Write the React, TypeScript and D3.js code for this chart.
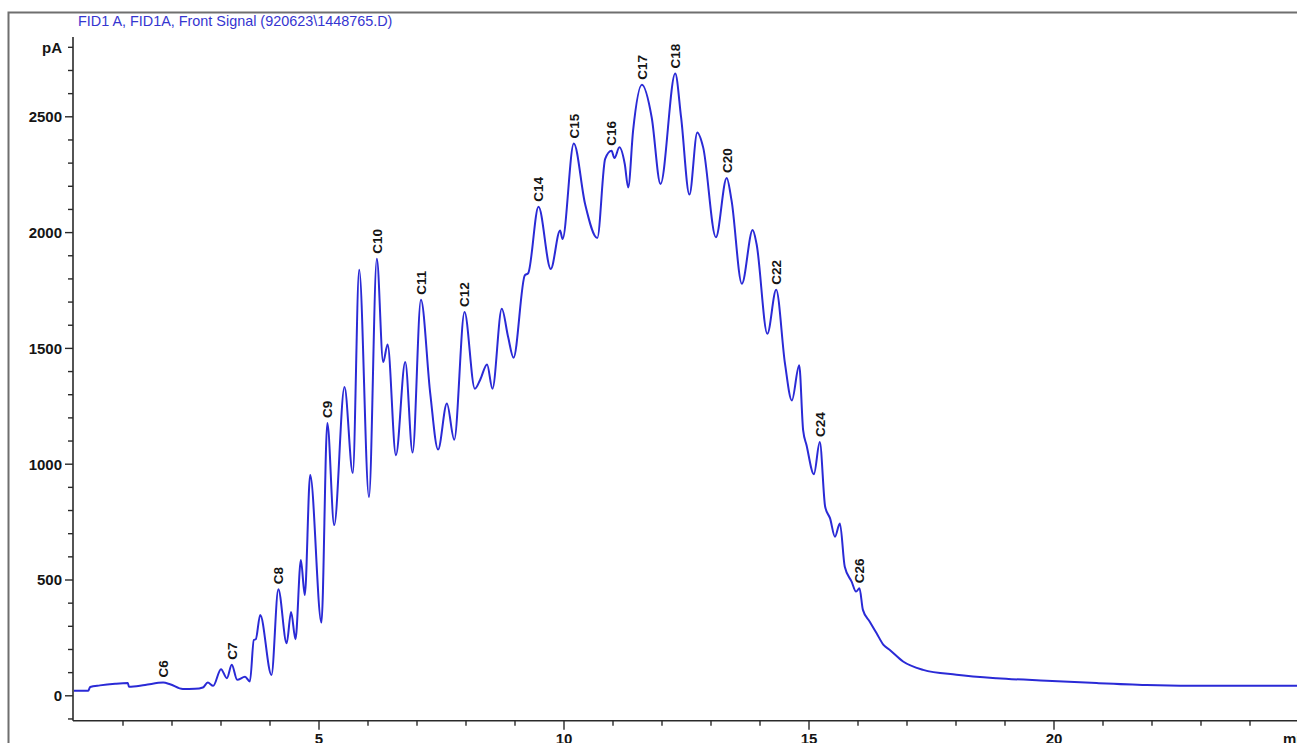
import * as d3 from "d3";

// retention time (min) and detector signal (pA)
const TIMES = [
  0.0, 0.29, 0.33, 0.53, 0.84, 1.1, 1.12, 1.45, 1.82, 1.96, 2.22, 2.47, 2.63, 2.73, 2.84,
  3.0, 3.12, 3.22, 3.33, 3.49, 3.59, 3.67, 3.71, 3.8, 4.03, 4.17, 4.34, 4.43, 4.52, 4.63,
  4.71, 4.82, 5.05, 5.17, 5.31, 5.52, 5.69, 5.82, 6.02, 6.18, 6.31, 6.4, 6.57, 6.76, 6.91,
  7.08, 7.27, 7.43, 7.61, 7.76, 7.97, 8.18, 8.29, 8.43, 8.54, 8.73, 8.86, 8.97, 9.2, 9.27,
  9.48, 9.73, 9.92, 9.97, 10.2, 10.43, 10.68, 10.84, 10.97, 11.03, 11.13, 11.24, 11.31,
  11.41, 11.59, 11.79, 11.97, 12.27, 12.39, 12.56, 12.72, 12.84, 13.1, 13.32, 13.42, 13.63,
  13.85, 13.93, 14.15, 14.33, 14.51, 14.65, 14.8, 14.88, 14.95, 15.1, 15.22, 15.33, 15.43,
  15.53, 15.63, 15.73, 15.87, 15.96, 16.03, 16.1, 16.24, 16.38, 16.52, 16.65, 16.92, 17.33,
  18.01, 18.83, 19.85, 20.87, 21.89, 23.24, 25.0,
];
const SIGNAL = [
  22, 22, 38, 45, 52, 55, 39, 47, 57, 50, 29, 30, 36, 57, 43,
  115, 76, 134, 69, 82, 62, 241, 244, 349, 90, 460, 227, 362, 244, 586,
  435, 953, 316, 1178, 737, 1333, 962, 1840, 858, 1887, 1441, 1517, 1039, 1441, 1050,
  1710, 1306, 1063, 1262, 1106, 1657, 1326, 1365, 1431, 1326, 1671, 1549, 1460, 1815, 1825,
  2112, 1843, 2009, 1972, 2385, 2124, 1977, 2318, 2353, 2322, 2368, 2296, 2195,
  2440, 2638, 2497, 2210, 2687, 2497, 2164, 2432, 2368, 1980, 2236, 2138, 1779,
  2011, 1951, 1563, 1753, 1434, 1275, 1427, 1147, 1082, 957, 1096, 816, 766,
  687, 744, 557, 493, 450, 464, 371, 320, 270, 220, 198, 148, 112,
  91, 76, 65, 55, 47, 43, 43,
];

const PEAK_NAMES = ["C6", "C7", "C8", "C9", "C10", "C11", "C12", "C14", "C15", "C16", "C17", "C18", "C20", "C22", "C24", "C26"];
const PEAK_TIMES = [1.82, 3.22, 4.17, 5.17, 6.18, 7.08, 7.97, 9.48, 10.2, 10.97, 11.59, 12.27, 13.32, 14.33, 15.22, 16.03];

const Y_MAJOR = [0, 500, 1000, 1500, 2000, 2500];
const X_MAJOR = [5, 10, 15, 20];

const TITLE = "FID1 A, FID1A, Front Signal (920623\\1448765.D)";

export default function App() {
  const W = 1297;
  const H = 743;
  const font = "'Liberation Sans', Arial, sans-serif";
  const blue = "#2a2ad6";
  const axisColor = "#2a2a2a";

  const x = d3.scaleLinear().domain([0, 25]).range([74, 1299]);
  const y = d3.scaleLinear().domain([0, 2500]).range([695.8, 116.8]);

  const axisX = 73;
  const axisY = y(-108);

  const pts = TIMES.map((t, i) => [t, SIGNAL[i]] as [number, number]);
  const line = d3
    .line<[number, number]>()
    .x((d) => x(d[0]))
    .y((d) => y(d[1]))
    .curve(d3.curveMonotoneX);

  const yMinor = d3.range(-100, 2801, 100);
  const xMinor = d3.range(1, 26, 1);

  const peakValue = (t: number) => {
    const i = d3.minIndex(TIMES, (v) => Math.abs(v - t));
    return SIGNAL[i];
  };

  return (
    <svg
      width={W}
      height={H}
      style={{ position: "absolute", left: 0, top: 0, background: "#fff" }}
      fontFamily={font}
    >
      {/* outer frame */}
      <path d={`M8.5,${H + 2} V12.5 H${W + 2}`} fill="none" stroke="#6f6f6f" strokeWidth={2} />

      <text x={78} y={26} fontSize={14.4} fill="#3535d0">
        {TITLE}
      </text>

      {/* y axis */}
      <line x1={axisX} x2={axisX} y1={y(2845)} y2={axisY} stroke={axisColor} strokeWidth={1.6} />
      {yMinor.map((v) => {
        const major = v % 500 === 0;
        return (
          <line
            key={v}
            x1={axisX - (major ? 8 : 5)}
            x2={axisX}
            y1={y(v)}
            y2={y(v)}
            stroke={axisColor}
            strokeWidth={1.4}
          />
        );
      })}
      {Y_MAJOR.map((v) => (
        <text key={v} x={axisX - 11} y={y(v)} dy="0.36em" textAnchor="end" fontSize={15} fontWeight="bold" fill="#151515">
          {v}
        </text>
      ))}
      <text x={axisX - 11} y={y(2800)} dy="0.36em" textAnchor="end" fontSize={15} fontWeight="bold" fill="#151515">
        pA
      </text>

      {/* x axis */}
      <line x1={axisX} x2={W} y1={axisY} y2={axisY} stroke={axisColor} strokeWidth={1.6} />
      {xMinor.map((t) => {
        const major = t % 5 === 0;
        return (
          <line
            key={t}
            x1={x(t)}
            x2={x(t)}
            y1={axisY}
            y2={axisY + (major ? 9 : 5)}
            stroke={axisColor}
            strokeWidth={1.4}
          />
        );
      })}
      {X_MAJOR.map((t) => (
        <text key={t} x={x(t)} y={744} textAnchor="middle" fontSize={15} fontWeight="bold" fill="#151515">
          {t}
        </text>
      ))}
      <text x={1283} y={744} fontSize={15} fontWeight="bold" fill="#151515">
        min
      </text>

      {/* trace */}
      <path d={line(pts) ?? ""} fill="none" stroke={blue} strokeWidth={2} strokeLinejoin="round" />

      {/* peak labels */}
      {PEAK_NAMES.map((name, i) => {
        const px = x(PEAK_TIMES[i]);
        const py = y(peakValue(PEAK_TIMES[i])) - 5;
        return (
          <text
            key={name}
            transform={`translate(${px},${py}) rotate(-90)`}
            dy="0.36em"
            fontSize={13.5}
            fontWeight="bold"
            fill="#151515"
          >
            {name}
          </text>
        );
      })}
    </svg>
  );
}
